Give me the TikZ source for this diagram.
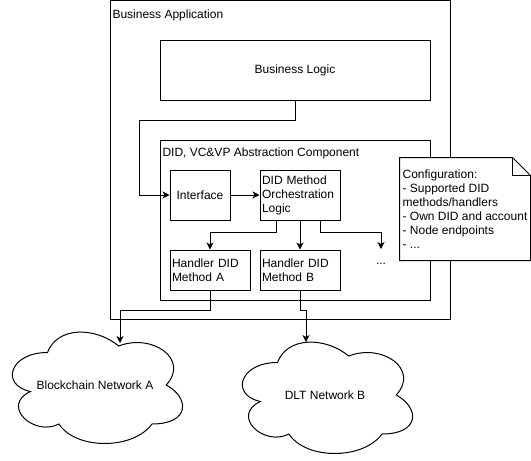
\documentclass[tikz,border=0pt]{standalone}
\usepackage{fontspec}
\setmainfont{Liberation Sans}
\usetikzlibrary{calc,arrows.meta}

\begin{document}
\begin{tikzpicture}[x=1pt, y=-1pt, line width=1pt,
      every node/.style={font=\fontsize{12}{14}\selectfont, inner sep=0pt},
      blk/.style 2 args={draw, minimum width=#1, minimum height=#2},
      lbl/.style={text width=76pt, align=left},
      arr/.style={-{Stealth[length=7pt, width=7pt, inset=2pt]}}]
          \useasboundingbox (0,0) rectangle (531,461);
          \node[blk={340pt}{319pt}] (app) at (280,160) {};
          \node[anchor=west] (applabel) at (112,15) {Business Application};
          \node[blk={270pt}{60pt}] (logic) at (295,70) {Business Logic};
          \node[blk={270pt}{160pt}] (absc) at (295,220) {};
          \node[anchor=west] (abslabel) at (162,153) {DID, VC\&VP Abstraction Component};
          \node[blk={60pt}{50pt}] (iface) at (200,195) {Interface};
          \node[blk={80pt}{50pt}, lbl] (orch) at (300,195) {DID Method\\Orchestration\\Logic};
          \node[blk={80pt}{40pt}, lbl] (handA) at (210,270) {Handler DID\\Method A};
          \node[blk={80pt}{40pt}, lbl] (handB) at (300,270) {Handler DID\\Method B};
          \node (more) at (381,264) {...};
          \coordinate (moretip) at (381,249);
          \node[fill=white, minimum width=130pt, minimum height=102pt, align=left] (config) at (465,209)
            {Configuration:\\- Supported DID\\methods/handlers\\- Own DID and account\\- Node endpoints\\- ...};
          \draw (config.north west) -- ($(config.north east)+(-18,0)$) -- ($(config.north east)+(0,18)$)
            -- (config.south east) -- (config.south west) -- cycle;
          \draw ($(config.north east)+(-18,0)$) -- ++(0,18) -- ($(config.north east)+(0,18)$);
          \begin{scope}[shift={(0,320)}, xscale=190, yscale=130]
            \draw (0.25,0.25) .. controls (0.05,0.25) and (0,0.5) .. (0.16,0.55)
              .. controls (0,0.66) and (0.18,0.9) .. (0.31,0.8)
              .. controls (0.4,1) and (0.7,1) .. (0.8,0.8)
              .. controls (1,0.8) and (1,0.6) .. (0.875,0.5)
              .. controls (1,0.3) and (0.8,0.1) .. (0.625,0.2)
              .. controls (0.5,0.05) and (0.3,0.05) .. (0.25,0.25) -- cycle;
          \end{scope}
          \begin{scope}[shift={(230,330)}, xscale=190, yscale=130]
            \draw (0.25,0.25) .. controls (0.05,0.25) and (0,0.5) .. (0.16,0.55)
              .. controls (0,0.66) and (0.18,0.9) .. (0.31,0.8)
              .. controls (0.4,1) and (0.7,1) .. (0.8,0.8)
              .. controls (1,0.8) and (1,0.6) .. (0.875,0.5)
              .. controls (1,0.3) and (0.8,0.1) .. (0.625,0.2)
              .. controls (0.5,0.05) and (0.3,0.05) .. (0.25,0.25) -- cycle;
          \end{scope}
          \node (netA) at (95,385) {Blockchain Network A};
          \node (netB) at (325,395) {DLT Network B};
          \coordinate (netAin) at (120,343);
          \coordinate (netBin) at (306,342);
          \draw[arr] (logic.south) -- ++(0,20) -| ($(iface.west)+(-30,0)$) -- (iface.west);
          \draw[arr] (iface) -- (orch);
          \draw[arr] ($(orch.south)+(-24,0)$) -- ++(0,12) -| (handA.north);
          \draw[arr] (orch) -- (handB);
          \draw[arr] ($(orch.south)+(20,0)$) -- ++(0,12) -| (moretip);
          \draw[arr] (handA.south) -- ++(0,20) -| (netAin);
          \draw[arr] (handB.south) -- ++(0,20) -| (netBin);
      \end{tikzpicture}
\end{document}
